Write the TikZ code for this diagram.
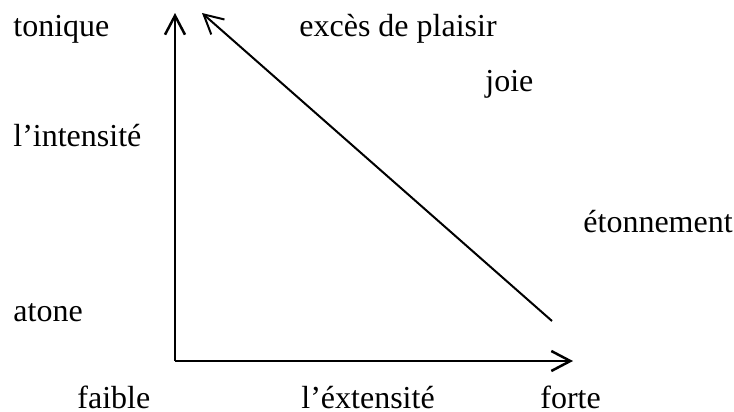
\documentclass[tikz,border=0pt]{standalone}
\usepackage{fontspec}
\setmainfont{Liberation Serif}
\usetikzlibrary{arrows.meta}
\begin{document}
\begin{tikzpicture}[x=0.5pt,y=-0.5pt,>={Straight Barb[length=9.5pt,width=10pt]},
  lbl/.style={anchor=base west,inner sep=0pt,font=\fontsize{16}{19}\selectfont}]
  \useasboundingbox (0,0) rectangle (734,412);
  \coordinate (O) at (175,361);
  \coordinate (Ytop) at (175,13);
  \coordinate (Xend) at (573,361);
  \coordinate (D0) at (552,321);
  \coordinate (D1) at (202,13);
  \draw[->,line width=1.25pt] (O) -- (Ytop);
  \draw[->,line width=1.25pt] (O) -- (Xend);
  \draw[->,line width=1pt] (D0) -- (D1);
  \node[lbl] (ton) at (13,36) {tonique};
  \node[lbl] (int) at (13,146) {l’intensité};
  \node[lbl] (ato) at (13,321) {atone};
  \node[lbl] (exc) at (299,36) {excès de plaisir};
  \node[lbl] (joi) at (485,91) {joie};
  \node[lbl] (eto) at (583,232) {étonnement};
  \node[lbl] (fai) at (77,408) {faible};
  \node[lbl] (ext) at (301,408) {l’éxtensité};
  \node[lbl] (for) at (540,408) {forte};
\end{tikzpicture}
\end{document}
